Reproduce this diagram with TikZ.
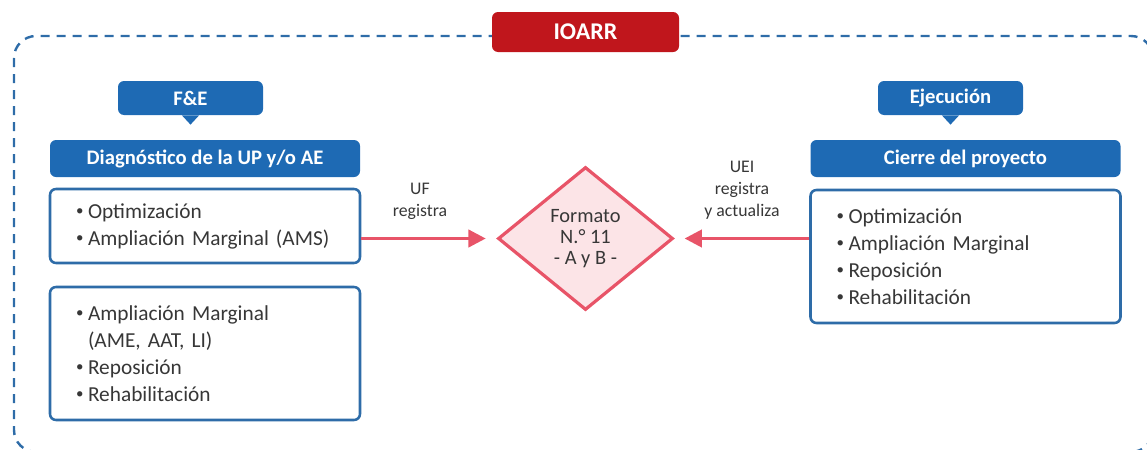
\documentclass[tikz,border=0pt]{standalone}
\usepackage{fontspec}
\setmainfont{Carlito}
\usetikzlibrary{shapes.geometric,arrows.meta}

\definecolor{hdrblue}{RGB}{30,106,180}
\definecolor{boxblue}{RGB}{46,108,168}
\definecolor{ioarrred}{RGB}{192,22,28}
\definecolor{arrpink}{RGB}{232,84,104}
\definecolor{dmdfill}{RGB}{252,228,231}
\definecolor{txtgray}{RGB}{55,55,55}

\newcommand{\listfont}{\fontsize{16}{20.25}\selectfont\spaceskip=0.24em plus 0.05em\relax}
\newcommand{\itm}[1]{\makebox[9pt][l]{\raisebox{0.12em}{\scalebox{0.7}{•}}}#1}

\tikzset{
  hdrbox/.style={fill=hdrblue, rounded corners=4.5pt, text=white, font=\fontsize{15.5}{19}\selectfont\bfseries, minimum width=232.5pt, minimum height=27.75pt, inner sep=0pt},
  tabbox/.style={fill=hdrblue, rounded corners=4.5pt, text=white, font=\fontsize{15.5}{18}\selectfont\bfseries, minimum width=108.75pt, minimum height=25.5pt, inner sep=0pt},
  listbox/.style={draw=boxblue, line width=1.9pt, rounded corners=4.5pt, fill=white, text=txtgray, font=\listfont, minimum width=232.5pt, align=left, inner xsep=19.5pt, inner ysep=0pt, text width=193.5pt},
  flowarr/.style={draw=arrpink, line width=2.4pt, -{Triangle[length=13pt,width=13pt]}},
  flowlbl/.style={text=txtgray, font=\fontsize{13.3}{16.5}\selectfont, align=center},
}

\begin{document}
\begin{tikzpicture}[x=0.75pt,y=0.75pt,yscale=-1,xscale=1]

        \useasboundingbox (0,0) rectangle (1147,450);
        \clip (0,0) rectangle (1147,450);

        % dashed frame
        \draw [boxblue, line width=1.8pt, dash pattern=on 6.75pt off 5.25pt, rounded corners=16.5pt] (14,36) rectangle (1153,452);

        \node (ioarr) at (585.5,32) [fill=ioarrred, rounded corners=4.5pt, text=white, font=\fontsize{18}{21}\selectfont\bfseries, minimum width=140.25pt, minimum height=30pt, inner sep=0pt] {IOARR};

        % left column
        \node (fe) at (190.5,98) [tabbox] {F\&E};
        \fill [hdrblue] ([xshift=-6.5pt]fe.south) -- ([xshift=6.5pt]fe.south) -- ([yshift=7pt]fe.south) -- cycle;
        \node (diag) at (205,158.5) [hdrbox] {Diagnóstico de la UP y/o AE};
        \node (lbox1) at (205,226) [listbox, minimum height=55.5pt] {\itm{Optimización}\\ \itm{Ampliación Marginal (AMS)}};
        \node (lbox2) at (205,353.5) [listbox, minimum height=99.75pt] {\itm{Ampliación Marginal}\\ \hspace*{9pt}(AME, AAT, LI)\\ \itm{Reposición}\\ \itm{Rehabilitación}\\[6pt]};

        % centre
        \node (dmd) at (585.5,238.5) [diamond, draw=arrpink, line width=2.4pt, fill=dmdfill, text=txtgray, font=\fontsize{15.3}{16}\selectfont, align=center, inner sep=0pt, aspect=1.22, minimum width=131.25pt, minimum height=107.25pt] {Formato\\ N.° 11\\ - A y B -};

        % right column
        \node (ejec) at (950.5,98) [tabbox] {Ejecución};
        \fill [hdrblue] ([xshift=-6.5pt]ejec.south) -- ([xshift=6.5pt]ejec.south) -- ([yshift=7pt]ejec.south) -- cycle;
        \node (cierre) at (965.5,158.5) [hdrbox] {Cierre del proyecto};
        \node (rbox) at (965.5,256.5) [listbox, minimum height=99.75pt] {\itm{Optimización}\\ \itm{Ampliación Marginal}\\ \itm{Reposición}\\ \itm{Rehabilitación}};

        \draw [flowarr, shorten >=8pt] (lbox1.east |- dmd.west) -- (dmd.west);
        \draw [flowarr, shorten >=7.5pt] (rbox.west |- dmd.east) -- (dmd.east);

        \node (uf) at (420,201) [flowlbl] {UF\\ registra};
        \node (uei) at (742,190) [flowlbl] {UEI\\ registra\\ y actualiza};
    \end{tikzpicture}
\end{document}
